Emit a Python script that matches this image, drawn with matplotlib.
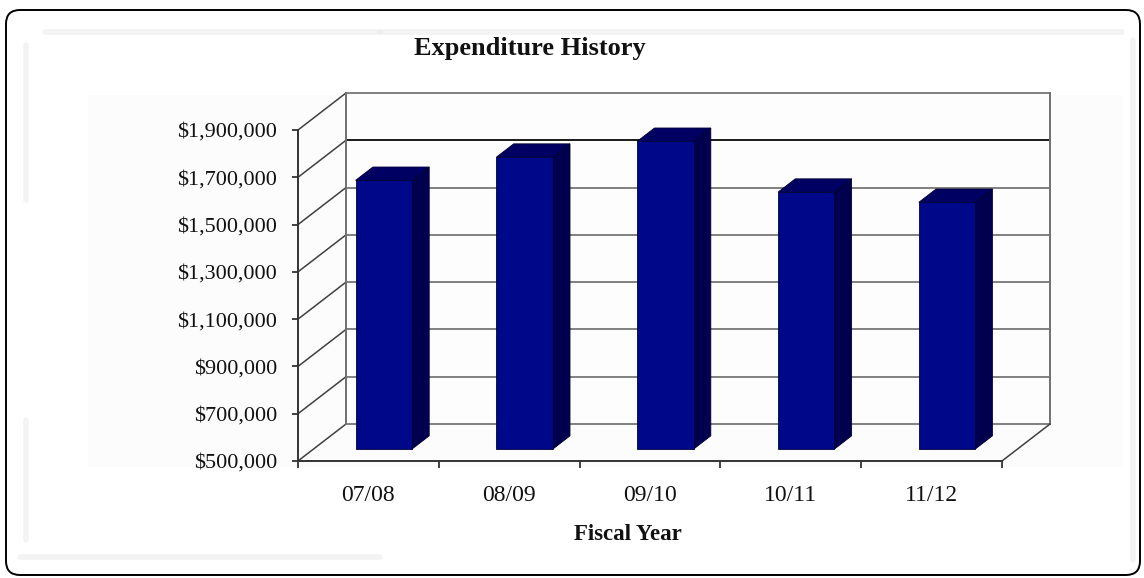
import matplotlib
matplotlib.use('Agg')
import matplotlib.pyplot as plt
from matplotlib.patches import Polygon, FancyBboxPatch

# ---- data ----
categories = ['07/08', '08/09', '09/10', '10/11', '11/12']
expenditure = [1637000, 1735000, 1802000, 1587000, 1544000]
y_ticks = [500000, 700000, 900000, 1100000, 1300000, 1500000, 1700000, 1900000]
y_tick_labels = ['$500,000', '$700,000', '$900,000', '$1,100,000', '$1,300,000',
                 '$1,500,000', '$1,700,000', '$1,900,000']
title = 'Expenditure History'
x_title = 'Fiscal Year'

W, H = 1144, 578
fig = plt.figure(figsize=(W / 100, H / 100), dpi=100)
fig.patch.set_facecolor('white')

# ---- decorative background / frame (pixel coordinates) ----
bg = fig.add_axes([0, 0, 1, 1], zorder=0)
bg.set_xlim(0, W)
bg.set_ylim(H, 0)
bg.axis('off')
# faint plot-area shading
bg.add_patch(plt.Rectangle((88, 95), 1034, 372, fc='#fcfcfc', ec='none'))
# faint inner shadow strokes
for (xs, ys) in [((45, 380), (32, 32)), ((380, 1122), (32, 32)), ((26, 26), (45, 200)),
                 ((26, 26), (420, 540)), ((20, 380), (557, 557)), ((1133, 1133), (40, 560))]:
    bg.plot(xs, ys, color='#eeeeee', lw=4, solid_capstyle='round', alpha=0.7)
bg.add_patch(FancyBboxPatch((6, 10), 1134, 565, boxstyle='round,pad=0,rounding_size=14',
                            fill=False, ec='black', lw=1.4))

# ---- main axes: front plane ----
ymin, ymax = y_ticks[0], y_ticks[-1]
left_px, right_px, bottom_px, top_px = 298, 1002, 461, 130
ax = fig.add_axes([left_px / W, (H - bottom_px) / H, (right_px - left_px) / W,
                   (bottom_px - top_px) / H], zorder=1)
ax.set_xlim(0, len(categories))
ax.set_ylim(ymin, ymax)
ax.patch.set_alpha(0)

n = len(categories)
# depth offset of the back wall in data units
DX = 48 / (right_px - left_px) * n
DY = 37 / (bottom_px - top_px) * (ymax - ymin)

grid_c = '#808080'
wall_c = '#707070'
lw = 1.4
# back wall fill
ax.add_patch(Polygon([(DX, ymin + DY), (n + DX, ymin + DY), (n + DX, ymax + DY), (DX, ymax + DY)],
                     closed=True, fc='#fdfdfd', ec='none', clip_on=False, zorder=0))
for v in y_ticks:
    c = '#1a1a1a' if v == 1700000 else grid_c
    ax.plot([DX, n + DX], [v + DY, v + DY], color=c, lw=lw, clip_on=False, zorder=1)
    ax.plot([0, DX], [v, v + DY], color='#404040', lw=1.1, clip_on=False, zorder=1)
# wall edges and floor
ax.plot([DX, DX], [ymin + DY, ymax + DY], color=wall_c, lw=lw, clip_on=False, zorder=1)
ax.plot([n + DX, n + DX], [ymin + DY, ymax + DY], color=wall_c, lw=lw, clip_on=False, zorder=1)
ax.plot([n, n + DX], [ymin, ymin + DY], color='#404040', lw=1.1, clip_on=False, zorder=1)

# ---- 3D bars ----
f0, f1 = 0.32, 0.68
bw = 0.4
front_c, side_c, top_c = '#00088a', '#00004f', '#000063'
for i, v in enumerate(expenditure):
    cx = i + 0.5
    x0 = cx - bw / 2 + f0 * DX
    x1 = cx + bw / 2 + f0 * DX
    yb = ymin + f0 * DY
    yt = v + f0 * DY
    ddx = (f1 - f0) * DX
    ddy = (f1 - f0) * DY
    front = [(x0, yb), (x1, yb), (x1, yt), (x0, yt)]
    side = [(x1, yb), (x1 + ddx, yb + ddy), (x1 + ddx, yt + ddy), (x1, yt)]
    top = [(x0, yt), (x1, yt), (x1 + ddx, yt + ddy), (x0 + ddx, yt + ddy)]
    for poly, col in [(side, side_c), (top, top_c), (front, front_c)]:
        ax.add_patch(Polygon(poly, closed=True, fc=col, ec='#000033', lw=0.6,
                             clip_on=False, zorder=3))

# ---- axes styling ----
for s in ['top', 'right']:
    ax.spines[s].set_visible(False)
for s in ['left', 'bottom']:
    ax.spines[s].set_color('#333333')
    ax.spines[s].set_linewidth(1.4)
    ax.spines[s].set_zorder(2)

serif = ['Liberation Serif', 'DejaVu Serif']
ax.set_yticks(y_ticks)
ax.set_yticklabels(y_tick_labels, fontfamily=serif, fontsize=16, color='#111111')
ax.tick_params(axis='y', direction='out', length=4, width=1.3, color='#333333', pad=11)

ax.set_xticks(range(n + 1))
ax.set_xticklabels([''] * (n + 1))
ax.tick_params(axis='x', which='major', direction='out', length=5, width=1.3, color='#333333')
ax.set_xticks([i + 0.5 for i in range(n)], minor=True)
ax.set_xticklabels(categories, minor=True, fontfamily=serif, fontsize=17, color='#111111')
ax.tick_params(axis='x', which='minor', length=0, pad=17)

fig.text(530 / W, 1 - 49 / H, title, ha='center', va='center', fontfamily=serif,
         fontweight='bold', fontsize=19, color='#111111')
fig.text(628 / W, 1 - 534 / H, x_title, ha='center', va='center', fontfamily=serif,
         fontweight='bold', fontsize=16.5, color='#111111')

fig.savefig('out.png', dpi=100, facecolor='white')
